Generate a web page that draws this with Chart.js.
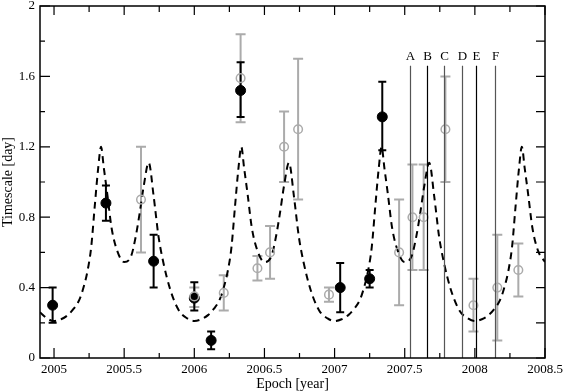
<!DOCTYPE html>
<html>
<head>
<meta charset="utf-8">
<script src="https://cdn.jsdelivr.net/npm/chart.js@4.4.0/dist/chart.umd.min.js"></script>
<style>
  body { margin: 0; background: #fff; }
  #wrap { width: 565px; height: 391px; }
</style>
</head>
<body>
<div id="wrap"><canvas id="chart" width="565" height="391"></canvas></div>
<script>
// axis ticks
const xTickValues = [2005, 2005.5, 2006, 2006.5, 2007, 2007.5, 2008, 2008.5];
const xMinorTicks = [2005.25, 2005.75, 2006.25, 2006.75, 2007.25, 2007.75, 2008.25];
const yTickValues = [0, 0.4, 0.8, 1.2, 1.6, 2];
const yMinorTicks = [0.2, 0.6, 1.0, 1.4, 1.8];

// filled black points with error bars
const blackX  = [2004.99, 2005.37, 2005.71, 2006.0, 2006.12, 2006.33, 2007.04, 2007.25, 2007.34];
const blackY  = [0.30, 0.88, 0.55, 0.34, 0.10, 1.52, 0.40, 0.45, 1.37];
const blackLo = [0.20, 0.78, 0.40, 0.27, 0.05, 1.37, 0.26, 0.40, 1.18];
const blackHi = [0.40, 0.98, 0.70, 0.43, 0.15, 1.68, 0.54, 0.50, 1.57];

// open grey points with error bars
const greyX  = [2005.62, 2006.0, 2006.21, 2006.33, 2006.45, 2006.54, 2006.64, 2006.74, 2006.96, 2007.46, 2007.555, 2007.635, 2007.79, 2007.99, 2008.16, 2008.31];
const greyY  = [0.90, 0.35, 0.37, 1.59, 0.51, 0.60, 1.20, 1.30, 0.36, 0.60, 0.80, 0.80, 1.30, 0.30, 0.40, 0.50];
const greyLo = [0.60, 0.29, 0.27, 1.34, 0.44, 0.45, 1.00, 0.90, 0.32, 0.30, 0.50, 0.50, 1.00, 0.15, 0.10, 0.35];
const greyHi = [1.20, 0.40, 0.47, 1.84, 0.58, 0.75, 1.40, 1.70, 0.40, 0.90, 1.10, 1.10, 1.60, 0.45, 0.70, 0.65];

// dashed model curve
const curveX = [
  2004.90, 2004.95,
  2005.00, 2005.05, 2005.10, 2005.14, 2005.18, 2005.21, 2005.24, 2005.265, 2005.29, 2005.315, 2005.335, 2005.355, 2005.38, 2005.41, 2005.45,
  2005.50, 2005.55, 2005.58, 2005.61, 2005.64, 2005.675, 2005.71, 2005.745, 2005.78, 2005.83, 2005.89, 2005.95,
  2006.00, 2006.05, 2006.10, 2006.14, 2006.18, 2006.21, 2006.24, 2006.265, 2006.29, 2006.315, 2006.335, 2006.355, 2006.38, 2006.41, 2006.45,
  2006.50, 2006.55, 2006.58, 2006.61, 2006.64, 2006.675, 2006.71, 2006.745, 2006.78, 2006.83, 2006.89, 2006.95,
  2007.00, 2007.05, 2007.10, 2007.14, 2007.18, 2007.21, 2007.24, 2007.265, 2007.29, 2007.315, 2007.335, 2007.355, 2007.38, 2007.41, 2007.45,
  2007.50, 2007.55, 2007.58, 2007.61, 2007.64, 2007.675, 2007.71, 2007.745, 2007.78, 2007.83, 2007.89, 2007.95,
  2008.00, 2008.05, 2008.10, 2008.14, 2008.18, 2008.21, 2008.24, 2008.265, 2008.29, 2008.315, 2008.335, 2008.355, 2008.38, 2008.41, 2008.45,
  2008.50
];
const curveY = [
  0.26, 0.225,
  0.21, 0.22, 0.245, 0.28, 0.33, 0.40, 0.50, 0.63, 0.86, 1.08, 1.20, 1.08, 0.93, 0.74, 0.61,
  0.545, 0.58, 0.68, 0.82, 0.98, 1.11, 0.92, 0.69, 0.54, 0.385, 0.27, 0.225,
  0.21, 0.22, 0.245, 0.28, 0.33, 0.40, 0.50, 0.63, 0.86, 1.08, 1.20, 1.08, 0.93, 0.74, 0.61,
  0.545, 0.58, 0.68, 0.82, 0.98, 1.11, 0.92, 0.69, 0.54, 0.385, 0.27, 0.225,
  0.21, 0.22, 0.245, 0.28, 0.33, 0.40, 0.50, 0.63, 0.86, 1.08, 1.20, 1.08, 0.93, 0.74, 0.61,
  0.545, 0.58, 0.68, 0.82, 0.98, 1.11, 0.92, 0.69, 0.54, 0.385, 0.27, 0.225,
  0.21, 0.22, 0.245, 0.28, 0.33, 0.40, 0.50, 0.63, 0.86, 1.08, 1.20, 1.08, 0.93, 0.74, 0.61,
  0.545
];

// marked epochs
const markLabels = ['A', 'B', 'C', 'D', 'E', 'F'];
const markX = [2007.54, 2007.66, 2007.78, 2007.91, 2008.01, 2008.14];
const markTop = 1.66;
const markLabelY = 1.71;

const serif = 'Liberation Serif';
const greyColor = '#ababab';
const markColors = ['#555', '#000', '#555', '#555', '#000', '#555'];

function toPoints(xs, ys) {
  return xs.map((x, i) => ({ x: x, y: ys[i] }));
}

// error bars under the markers
const errorBars = {
  id: 'errorBars',
  beforeDatasetsDraw(chart) {
    const ctx = chart.ctx;
    const xs = chart.scales.x, ys = chart.scales.y;
    function bars(X, Lo, Hi, color, cap) {
      ctx.save();
      ctx.strokeStyle = color;
      ctx.lineWidth = 2;
      X.forEach(function (x, i) {
        const px = xs.getPixelForValue(x);
        const top = ys.getPixelForValue(Hi[i]);
        const bot = ys.getPixelForValue(Lo[i]);
        ctx.beginPath();
        ctx.moveTo(px, top); ctx.lineTo(px, bot);
        ctx.moveTo(px - cap, top); ctx.lineTo(px + cap, top);
        ctx.moveTo(px - cap, bot); ctx.lineTo(px + cap, bot);
        ctx.stroke();
      });
      ctx.restore();
    }
    bars(greyX, greyLo, greyHi, greyColor, 5);
    bars(blackX, blackLo, blackHi, '#000', 4);
  }
};

// frame, inward ticks, epoch markers
const frameAndMarks = {
  id: 'frameAndMarks',
  afterDatasetsDraw(chart) {
    const ctx = chart.ctx;
    const xs = chart.scales.x, ys = chart.scales.y;
    const a = chart.chartArea;
    ctx.save();

    // epoch lines
    markX.forEach(function (x, i) {
      const px = Math.round(xs.getPixelForValue(x)) + 0.5;
      ctx.strokeStyle = markColors[i];
      ctx.lineWidth = 1.2;
      ctx.beginPath();
      ctx.moveTo(px, ys.getPixelForValue(markTop));
      ctx.lineTo(px, a.bottom);
      ctx.stroke();
      ctx.fillStyle = '#000';
      ctx.font = '13px "' + serif + '"';
      ctx.textAlign = 'center';
      ctx.textBaseline = 'middle';
      ctx.fillText(markLabels[i], px, ys.getPixelForValue(markLabelY));
    });

    // frame
    ctx.strokeStyle = '#000';
    ctx.lineWidth = 1.5;
    ctx.strokeRect(a.left, a.top, a.right - a.left, a.bottom - a.top);

    // ticks
    ctx.lineWidth = 1.2;
    ctx.beginPath();
    xTickValues.forEach(function (v) {
      const p = xs.getPixelForValue(v);
      ctx.moveTo(p, a.bottom); ctx.lineTo(p, a.bottom - 10);
      ctx.moveTo(p, a.top); ctx.lineTo(p, a.top + 9);
    });
    xMinorTicks.forEach(function (v) {
      const p = xs.getPixelForValue(v);
      ctx.moveTo(p, a.bottom); ctx.lineTo(p, a.bottom - 5);
      ctx.moveTo(p, a.top); ctx.lineTo(p, a.top + 6);
    });
    yTickValues.forEach(function (v) {
      const p = ys.getPixelForValue(v);
      ctx.moveTo(a.left, p); ctx.lineTo(a.left + 10, p);
      ctx.moveTo(a.right, p); ctx.lineTo(a.right - 9, p);
    });
    yMinorTicks.forEach(function (v) {
      const p = ys.getPixelForValue(v);
      ctx.moveTo(a.left, p); ctx.lineTo(a.left + 5, p);
      ctx.moveTo(a.right, p); ctx.lineTo(a.right - 9, p);
    });
    ctx.stroke();
    ctx.restore();
  }
};

const chart = new Chart(document.getElementById('chart'), {
  type: 'scatter',
  data: {
    datasets: [
      {
        label: 'grey',
        data: toPoints(greyX, greyY),
        pointRadius: 4.3,
        pointBorderWidth: 1.5,
        borderColor: greyColor,
        backgroundColor: 'rgba(0,0,0,0)',
        order: 0
      },
      {
        label: 'black',
        data: toPoints(blackX, blackY),
        pointRadius: 5,
        borderColor: '#000',
        backgroundColor: '#000',
        order: 1
      },
      {
        label: 'model',
        type: 'line',
        data: toPoints(curveX, curveY),
        showLine: true,
        borderColor: '#000',
        borderWidth: 2,
        borderDash: [7, 5],
        pointRadius: 0,
        fill: false,
        cubicInterpolationMode: 'monotone',
        order: 2
      }
    ]
  },
  options: {
    responsive: false,
    animation: false,
    devicePixelRatio: 1,
    layout: { padding: { top: 5, right: 20, left: 0, bottom: 0 } },
    plugins: {
      legend: { display: false },
      tooltip: { enabled: false }
    },
    scales: {
      x: {
        type: 'linear',
        min: 2004.9,
        max: 2008.5,
        afterBuildTicks: function (scale) {
          scale.ticks = xTickValues.map(v => ({ value: v }));
        },
        afterFit: function (scale) {
          scale.height = 33;
          scale.paddingLeft = 0;
          scale.paddingRight = 0;
        },
        grid: { display: false, drawTicks: false },
        border: { display: false },
        ticks: {
          color: '#000',
          padding: 4,
          maxRotation: 0,
          autoSkip: false,
          font: { family: serif, size: 13 },
          callback: v => String(v)
        },
        title: {
          display: true,
          text: 'Epoch [year]',
          color: '#000',
          padding: { top: 0, bottom: 0 },
          font: { family: serif, size: 14, lineHeight: 1 }
        }
      },
      y: {
        min: 0,
        max: 2,
        afterBuildTicks: function (scale) {
          scale.ticks = yTickValues.map(v => ({ value: v }));
        },
        afterFit: function (scale) {
          scale.width = 40;
          scale.paddingTop = 0;
          scale.paddingBottom = 0;
        },
        grid: { display: false, drawTicks: false },
        border: { display: false },
        ticks: {
          color: '#000',
          padding: 5,
          font: { family: serif, size: 13 },
          callback: v => String(v)
        },
        title: {
          display: true,
          text: 'Timescale [day]',
          color: '#000',
          padding: { top: 0, bottom: 0 },
          font: { family: serif, size: 14, lineHeight: 1.2 }
        }
      }
    }
  },
  plugins: [errorBars, frameAndMarks]
});
</script>
</body>
</html>
